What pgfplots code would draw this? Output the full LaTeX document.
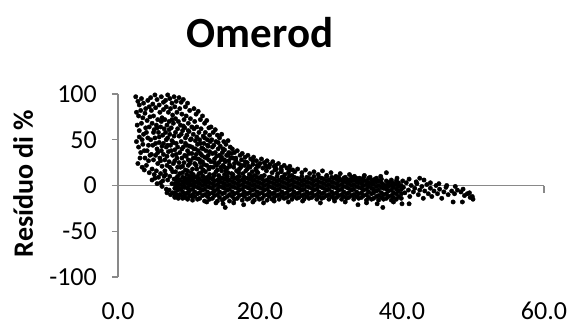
\documentclass[border=0pt]{standalone}
\usepackage{pgfplots}
\pgfplotsset{compat=1.18}
\usepackage{fontspec}
\setmainfont{Carlito}
\definecolor{axisgrey}{HTML}{898989}

\begin{document}
\begin{tikzpicture}
\begin{axis}[
  scale only axis,
  width=426pt, height=183pt,
  xmin=0, xmax=60, ymin=-100, ymax=100,
  axis y line*=left,
  axis x line*=bottom,
  x axis line style={draw=none},
  y axis line style={draw=axisgrey, line width=1.1pt},
  xtick={0,20,40,60},
  xticklabels={0.0,20.0,40.0,60.0},
  ytick={-100,-50,0,50,100},
  yticklabels={-100,-50,0,50,100},
  tick align=outside,
  major tick length=6pt,
  xtick style={draw=none},
  ytick style={draw=axisgrey, line width=1.1pt},
  ticklabel style={font=\fontsize{26}{30}\selectfont, text=black},
  xticklabel style={anchor=north, inner sep=0pt, yshift=-19pt},
  yticklabel style={anchor=east, inner sep=0pt, xshift=-15pt},
  clip=false,
]
% zero line with its tick marks
\draw[axisgrey, line width=1.1pt] (axis cs:0,0) -- (axis cs:60,0);
\draw[axisgrey, line width=1.1pt] (axis cs:20,0) -- ([yshift=-7pt]axis cs:20,0);
\draw[axisgrey, line width=1.1pt] (axis cs:40,0) -- ([yshift=-7pt]axis cs:40,0);
\draw[axisgrey, line width=1.1pt] (axis cs:60,0) -- ([yshift=-7pt]axis cs:60,0);

\addplot[only marks, mark=*, mark size=2.2pt, color=black] coordinates {
% upper fan, x 2.4-4.5
(2.5,97)(2.8,92)(3.0,88)(3.3,95)(3.6,90)(3.9,84)(4.2,93)(2.6,80)(2.9,76)(3.2,82)
(3.5,74)(3.8,79)(4.1,71)(4.4,86)(2.7,66)(3.0,60)(3.3,68)(3.6,56)(3.9,63)(4.2,52)
(4.4,64)(2.6,48)(2.9,42)(3.2,36)(3.5,45)(3.8,30)(4.1,38)(4.3,27)(2.8,24)(3.1,30)
(3.4,20)(3.7,17)(4.0,22)(4.4,14)(3.0,53)
% x 4.5-6.5
(4.6,96)(4.9,89)(5.2,99)(5.5,94)(5.8,88)(6.1,97)(6.4,91)(4.7,82)(5.0,76)(5.3,85)
(5.6,72)(5.9,80)(6.2,74)(6.4,83)(4.8,68)(5.1,61)(5.4,66)(5.7,58)(6.0,64)(6.3,55)
(4.6,50)(4.9,44)(5.2,52)(5.5,40)(5.8,47)(6.1,38)(6.4,46)(4.7,34)(5.0,28)(5.3,33)
(5.6,24)(5.9,30)(6.2,21)(4.8,18)(5.1,12)(5.4,16)(5.7,9)(6.0,13)(6.3,5)(6.5,10)
% x 6.5-8.5
(6.7,93)(7.0,99)(7.3,95)(7.6,90)(7.9,97)(8.2,92)(6.8,86)(7.1,80)(7.4,84)(7.7,77)
(8.0,86)(8.3,80)(6.6,72)(6.9,66)(7.2,70)(7.5,63)(7.8,68)(8.1,73)(8.4,62)(6.7,58)
(7.0,52)(7.3,56)(7.6,49)(7.9,54)(8.2,46)(6.8,42)(7.1,37)(7.4,44)(7.7,33)(8.0,39)
(8.3,30)(6.6,28)(6.9,22)(7.2,26)(7.5,18)(7.8,24)(8.1,15)(8.4,20)(6.7,12)(7.0,6)
(7.3,10)(7.6,2)(7.9,7)(8.2,-2)(8.4,4)(7.2,-5)(7.7,-8)(8.3,-10)
% x 8.5-10.5
(8.6,96)(8.9,91)(9.2,94)(9.5,86)(9.8,90)(10.1,82)(8.7,84)(9.0,78)(9.3,72)(9.6,76)
(9.9,68)(10.2,73)(10.4,64)(8.8,66)(9.1,60)(9.4,63)(9.7,55)(10.0,59)(10.3,51)(8.6,54)
(8.9,48)(9.2,42)(9.5,46)(9.8,38)(10.1,43)(10.4,35)(8.7,36)(9.0,30)(9.3,25)(9.6,32)
(9.9,22)(10.2,27)(10.5,18)(8.8,20)(9.1,14)(9.4,8)(9.7,12)(10.0,4)(10.3,9)(8.9,-4)
(9.3,-1)(9.6,-9)(10.0,-6)(10.4,-12)(9.1,-14)(9.8,-15)
% x 10.5-13
(10.7,84)(11.0,78)(11.3,81)(11.6,72)(11.9,76)(12.2,68)(12.5,71)(12.8,63)(10.8,70)(11.1,64)
(11.4,58)(11.7,62)(12.0,54)(12.3,58)(12.6,50)(12.9,55)(10.6,56)(10.9,49)(11.2,45)(11.5,50)
(11.8,41)(12.1,46)(12.4,38)(12.7,43)(10.7,40)(11.0,34)(11.3,29)(11.6,35)(11.9,26)(12.2,31)
(12.5,22)(12.8,28)(10.8,24)(11.1,18)(11.4,13)(11.7,20)(12.0,10)(12.3,15)(12.6,6)(12.9,12)
% x 13-16
(13.1,64)(13.4,58)(13.7,61)(14.0,55)(14.3,52)(14.6,56)(14.9,48)(15.2,45)(15.5,49)(15.8,42)
(13.2,50)(13.5,44)(13.8,48)(14.1,40)(14.4,43)(14.7,36)(15.0,39)(15.3,33)(15.6,36)(15.9,30)
(13.3,35)(13.6,29)(13.9,32)(14.2,25)(14.5,28)(14.8,22)(15.1,26)(15.4,19)(15.7,23)(13.4,20)
(13.8,15)(14.2,11)(14.6,16)(15.0,12)(15.5,14)
% x 16-20
(16.1,40)(16.4,36)(16.8,38)(17.2,33)(17.5,35)(17.9,31)(18.3,33)(18.7,29)(19.1,31)(19.5,27)
(16.2,30)(16.6,27)(17.0,24)(17.4,28)(17.8,22)(18.2,25)(18.6,20)(19.0,23)(19.4,18)(19.8,21)
(16.3,20)(16.7,16)(17.1,18)(17.6,13)(18.0,16)(18.5,12)(18.9,15)(19.3,11)(19.7,14)
% x 20-25
(20.2,29)(20.6,25)(21.0,27)(21.4,23)(21.8,26)(22.2,22)(22.6,24)(23.0,20)(23.4,22)(23.8,19)
(24.2,21)(24.6,17)(20.4,19)(20.9,16)(21.3,20)(21.7,14)(22.1,17)(22.5,13)(23.0,15)(23.5,12)
(24.0,14)(24.5,11)(24.9,15)
% fill of the lower fan
(9.2,3)(9.5,17)(9.9,28)(10.3,1)(10.6,12)(10.9,30)(11.3,5)(11.6,25)(12.0,17)(12.3,3)
(12.7,33)(13.0,20)(13.3,8)(13.6,25)(14.0,17)(14.3,5)(14.6,31)(15.0,20)(15.3,9)(15.6,27)
(16.0,13)(16.4,24)(16.8,9)(17.3,20)(17.7,8)(18.2,18)(18.8,9)(19.5,16)(20.2,10)(20.8,22)
(21.5,9)(22.3,18)(23.2,9)(24.1,17)
(3.4,50)(3.7,38)(4.0,58)(4.3,44)(4.5,75)(4.5,33)(5.0,58)(5.3,46)(5.5,63)(5.6,36)
(5.8,53)(6.0,27)(6.1,70)(6.2,43)(6.4,34)(6.5,62)(6.6,16)(6.8,50)(6.9,32)(7.0,44)
(7.2,61)(7.3,20)(7.5,38)(7.6,72)(7.7,15)(7.8,47)(8.0,27)(8.1,58)(8.2,34)(8.3,8)
(8.4,42)(8.5,70)(8.6,25)(8.7,13)(8.9,56)(9.0,40)(9.1,21)(9.2,65)(9.4,33)(9.5,52)
(9.6,4)(9.7,44)(9.8,16)(9.9,60)(10.0,35)(10.1,24)(10.2,50)(10.3,14)(10.4,42)(10.6,30)
(10.7,62)(10.8,3)(10.9,40)(11.0,22)(11.1,53)(11.2,10)(11.3,38)(11.5,28)(11.6,46)(11.7,14)
(11.8,33)(12.0,40)(12.1,23)(12.2,52)(12.4,8)(12.5,30)(12.6,44)(12.8,18)(12.9,37)(13.0,48)
(13.1,26)(13.3,42)(13.5,12)(13.7,36)(13.9,22)(14.1,47)(14.3,33)(14.5,20)(14.8,40)(15.0,28)
(15.2,16)(15.5,33)(15.8,21)(16.0,35)(16.2,12)(16.6,30)(17.0,14)(17.4,22)(17.9,26)(18.4,21)
(19.0,27)(19.6,22)(20.0,24)(21.0,20)(22.0,21)(23.0,17)(24.0,19)
(4.8,6)(5.5,2)(6.2,-1)(6.8,-4)(7.4,-10)(8.0,-12)(8.5,-14)(5.2,8)(6.0,3)(6.9,-8)
% upper scatter above the band, x 25-50
(25.3,18)(25.9,14)(26.4,17)(27.0,13)(27.6,15)(28.2,12)(28.8,16)(29.4,11)(30.0,14)(30.7,10)
(31.3,13)(32.0,9)(32.6,12)(33.3,10)(34.0,8)(34.7,11)(35.5,9)(36.2,7)(37.0,10)(37.8,14)
(38.5,6)(39.3,8)(40.1,5)(41.0,7)(42.0,4)(43.1,6)(44.0,3)(45.2,2)(46.3,0)(47.5,-1)
(48.6,-4)(49.5,-8)
% main band, x 8-40
(8.0,-13)(8.0,-8)(8.0,-3)(8.0,2)(8.0,7)
(8.4,-11)(8.4,-5)(8.4,0)(8.4,5)(8.4,10)
(8.7,-10)(8.7,-4)(8.7,1)(8.7,6)
(9.1,-12)(9.1,-7)(9.1,-1)(9.1,4)(9.1,9)
(9.4,-13)(9.4,-9)(9.4,-2)(9.4,3)(9.4,8)
(9.8,-14)(9.8,-8)(9.8,-3)(9.8,2)(9.8,7)
(10.1,-11)(10.1,-5)(10.1,0)(10.1,5)(10.1,10)
(10.5,-16)(10.5,-10)(10.5,-4)(10.5,1)(10.5,6)
(10.8,-12)(10.8,-7)(10.8,-1)(10.8,4)(10.8,9)
(11.2,-15)(11.2,-9)(11.2,-2)(11.2,3)(11.2,8)
(11.5,-14)(11.5,-8)(11.5,-3)(11.5,2)(11.5,7)
(11.9,-11)(11.9,-5)(11.9,0)(11.9,5)(11.9,10)
(12.2,-17)(12.2,-10)(12.2,-4)(12.2,1)(12.2,6)
(12.6,-12)(12.6,-7)(12.6,-1)(12.6,4)(12.6,9)
(12.9,-15)(12.9,-9)(12.9,-2)(12.9,3)(12.9,8)
(13.3,-14)(13.3,-8)(13.3,-3)(13.3,2)(13.3,7)
(13.6,-11)(13.6,-6)(13.6,0)(13.6,5)(13.6,11)
(14.0,-17)(14.0,-10)(14.0,-4)(14.0,1)(14.0,6)
(14.3,-13)(14.3,-7)(14.3,-1)(14.3,4)(14.3,9)
(14.7,-16)(14.7,-9)(14.7,-2)(14.7,3)(14.7,8)
(15.0,-14)(15.0,-8)(15.0,-3)(15.0,2)(15.0,7)
(15.4,-12)(15.4,-5)(15.4,0)(15.4,5)(15.4,10)
(15.7,-17)(15.7,-10)(15.7,-4)(15.7,1)(15.7,6)
(16.1,-12)(16.1,-7)(16.1,-1)(16.1,4)(16.1,9)
(16.4,-15)(16.4,-9)(16.4,-2)(16.4,3)(16.4,8)
(16.8,-14)(16.8,-8)(16.8,-3)(16.8,2)(16.8,7)
(17.1,-11)(17.1,-5)(17.1,0)(17.1,5)(17.1,10)
(17.5,-16)(17.5,-10)(17.5,-4)(17.5,1)(17.5,6)
(17.8,-12)(17.8,-7)(17.8,-1)(17.8,4)(17.8,9)
(18.2,-15)(18.2,-9)(18.2,-2)(18.2,3)(18.2,8)
(18.5,-14)(18.5,-8)(18.5,-3)(18.5,2)(18.5,7)
(18.9,-11)(18.9,-5)(18.9,0)(18.9,5)(18.9,10)
(19.2,-16)(19.2,-10)(19.2,-4)(19.2,1)(19.2,6)
(19.6,-12)(19.6,-7)(19.6,-1)(19.6,4)(19.6,9)
(19.9,-15)(19.9,-9)(19.9,-2)(19.9,3)(19.9,8)
(20.3,-14)(20.3,-8)(20.3,-3)(20.3,2)(20.3,7)
(20.6,-11)(20.6,-5)(20.6,0)(20.6,5)(20.6,11)
(21.0,-16)(21.0,-10)(21.0,-4)(21.0,1)(21.0,6)
(21.3,-12)(21.3,-7)(21.3,-1)(21.3,4)(21.3,9)
(21.7,-15)(21.7,-9)(21.7,-2)(21.7,3)(21.7,8)
(22.0,-13)(22.0,-8)(22.0,-3)(22.0,2)(22.0,7)
(22.4,-11)(22.4,-5)(22.4,0)(22.4,5)(22.4,10)
(22.7,-15)(22.7,-10)(22.7,-4)(22.7,1)(22.7,6)
(23.1,-12)(23.1,-7)(23.1,-1)(23.1,4)(23.1,9)
(23.4,-14)(23.4,-9)(23.4,-2)(23.4,3)(23.4,8)
(23.8,-13)(23.8,-8)(23.8,-3)(23.8,2)(23.8,7)
(24.1,-11)(24.1,-5)(24.1,0)(24.1,5)(24.1,10)
(24.5,-15)(24.5,-10)(24.5,-4)(24.5,1)(24.5,6)
(24.8,-12)(24.8,-7)(24.8,-1)(24.8,4)(24.8,9)
(25.2,-14)(25.2,-9)(25.2,-2)(25.2,3)(25.2,8)
(25.5,-13)(25.5,-8)(25.5,-3)(25.5,2)(25.5,7)
(25.9,-11)(25.9,-5)(25.9,0)(25.9,5)(25.9,10)
(26.2,-15)(26.2,-10)(26.2,-4)(26.2,1)(26.2,6)
(26.6,-12)(26.6,-7)(26.6,-1)(26.6,4)(26.6,9)
(26.9,-14)(26.9,-9)(26.9,-2)(26.9,3)(26.9,8)
(27.3,-13)(27.3,-8)(27.3,-3)(27.3,2)(27.3,7)
(27.6,-11)(27.6,-5)(27.6,0)(27.6,5)(27.6,10)
(28.0,-15)(28.0,-10)(28.0,-4)(28.0,1)(28.0,6)
(28.3,-12)(28.3,-7)(28.3,-1)(28.3,4)(28.3,9)
(28.7,-14)(28.7,-9)(28.7,-2)(28.7,3)(28.7,8)
(29.0,-13)(29.0,-8)(29.0,-3)(29.0,2)(29.0,7)
(29.4,-11)(29.4,-5)(29.4,0)(29.4,5)(29.4,10)
(29.7,-15)(29.7,-10)(29.7,-4)(29.7,1)(29.7,6)
(30.1,-12)(30.1,-7)(30.1,-1)(30.1,4)(30.1,9)
(30.4,-14)(30.4,-9)(30.4,-2)(30.4,3)(30.4,8)
(30.8,-13)(30.8,-8)(30.8,-3)(30.8,2)(30.8,7)
(31.1,-11)(31.1,-5)(31.1,0)(31.1,5)(31.1,9)
(31.5,-15)(31.5,-10)(31.5,-4)(31.5,1)(31.5,6)
(31.8,-12)(31.8,-7)(31.8,-1)(31.8,4)(31.8,8)
(32.2,-14)(32.2,-9)(32.2,-2)(32.2,3)(32.2,7)
(32.5,-13)(32.5,-8)(32.5,-3)(32.5,2)(32.5,6)
(32.9,-11)(32.9,-5)(32.9,0)(32.9,5)(32.9,9)
(33.2,-15)(33.2,-10)(33.2,-4)(33.2,1)(33.2,6)
(33.6,-12)(33.6,-7)(33.6,-1)(33.6,4)(33.6,8)
(33.9,-14)(33.9,-9)(33.9,-2)(33.9,3)(33.9,7)
(34.3,-13)(34.3,-8)(34.3,-3)(34.3,2)(34.3,6)
(34.6,-11)(34.6,-5)(34.6,0)(34.6,5)(34.6,9)
(35.0,-16)(35.0,-10)(35.0,-4)(35.0,1)(35.0,5)
(35.3,-13)(35.3,-7)(35.3,-1)(35.3,3)(35.3,8)
(35.7,-15)(35.7,-9)(35.7,-3)(35.7,2)(35.7,6)
(36.0,-14)(36.0,-8)(36.0,-4)(36.0,1)(36.0,5)
(36.4,-12)(36.4,-6)(36.4,-1)(36.4,4)(36.4,8)
(36.7,-16)(36.7,-11)(36.7,-5)(36.7,0)(36.7,5)
(37.1,-13)(37.1,-8)(37.1,-2)(37.1,3)(37.1,7)
(37.4,-15)(37.4,-10)(37.4,-3)(37.4,1)
(37.8,-14)(37.8,-9)(37.8,-4)(37.8,0)(37.8,5)
(38.1,-12)(38.1,-6)(38.1,-1)(38.1,3)
(38.5,-16)(38.5,-11)(38.5,-5)(38.5,0)(38.5,4)
(38.8,-13)(38.8,-8)(38.8,-2)(38.8,2)
(39.2,-15)(39.2,-9)(39.2,-4)(39.2,1)(39.2,5)
(39.5,-12)(39.5,-6)(39.5,-1)(39.5,3)
(39.9,-14)(39.9,-9)(39.9,-4)(39.9,0)
% thinning tail, x 40-50
(40.2,-2)(40.4,-8)(40.6,3)(40.9,-5)(41.1,-12)(41.3,0)(41.6,-7)(41.8,-3)(42.1,2)(42.3,-10)
(42.5,-5)(42.8,-1)(43.0,-14)(43.2,-6)(43.5,1)(43.7,-9)(44.0,-3)(44.2,-12)(44.5,-6)(44.8,0)
(45.0,-9)(45.3,-4)(45.6,-14)(45.9,-7)(46.2,-2)(46.5,-10)(47.0,-6)(47.4,-9)(47.8,-5)(48.3,-7)
(48.8,-11)(49.2,-9)(49.6,-13)(50.0,-15)(49.9,-12)(42.5,8)
% lower edge and outliers
(15.1,-24)(33.8,-21)(37.3,-24)(40.0,-20)(41.0,-20)(47.2,-18)(48.5,-18)(19.0,-18)
(12.5,-18)(13.8,-19)(14.8,-20)(16.3,-19)(17.7,-21)(20.5,-19)(22.0,-17)(24.0,-18)
(26.0,-17)(28.5,-19)(30.5,-17)(32.0,-18)(35.0,-19)(36.5,-20)(38.8,-18)
};
\end{axis}
% chart title and vertical axis title
\node[anchor=base, inner sep=0pt, font=\bfseries\fontsize{43}{50}\selectfont] at (142pt,230pt) {Omerod};
\node[rotate=90, anchor=base, inner sep=0pt, font=\bfseries\fontsize{28}{32}\selectfont] at (-85pt,93.5pt) {Resíduo di \%};
\pgfresetboundingbox
\path[use as bounding box] (-118pt,-48pt) rectangle (454pt,277pt);
\end{tikzpicture}
\end{document}
